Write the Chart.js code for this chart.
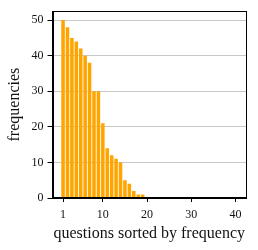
<!DOCTYPE html>
<html>
<head>
<meta charset="utf-8">
<script src="https://cdn.jsdelivr.net/npm/chart.js@4"></script>
<style>
html,body{margin:0;padding:0;background:#fff;}
#wrap{width:258px;height:250px;position:relative;}
</style>
</head>
<body>
<div id="wrap"><canvas id="c" width="258" height="250"></canvas></div>
<script>
const questions = [1,2,3,4,5,6,7,8,9,10,11,12,13,14,15,16,17,18,19];
const frequencies = [50,48,45,44,42,40,38,30,30,21,14,12,11,10,5,4,2,1,1];
const xTickValues = [1,10,20,30,40];
const yTickValues = [0,10,20,30,40,50];
const xTitle = 'questions sorted by frequency';
const yTitle = 'frequencies';

const FONT = "'Liberation Serif', 'Times New Roman', serif";

const framePlugin = {
  id: 'frame',
  afterDraw(chart) {
    const a = chart.chartArea, ctx = chart.ctx;
    ctx.save();
    ctx.strokeStyle = '#000';
    ctx.lineWidth = 1;
    ctx.strokeRect(Math.round(a.left) + 0.5, Math.round(a.top) + 0.5, Math.round(a.right - a.left) - 1, Math.round(a.bottom - a.top) - 1);
    ctx.restore();
  }
};

new Chart(document.getElementById('c'), {
  type: 'bar',
  data: {
    datasets: [{
      data: questions.map((q, i) => ({x: q, y: frequencies[i]})),
      backgroundColor: '#FFA500',
      borderWidth: 0,
      barPercentage: 0.8,
      categoryPercentage: 1.0
    }]
  },
  options: {
    responsive: false,
    animation: false,
    devicePixelRatio: 1,
    layout: {padding: {top: 10, right: 12, left: 0, bottom: 0}},
    plugins: {legend: {display: false}, tooltip: {enabled: false}},
    scales: {
      x: {
        type: 'linear',
        offset: false,
        min: -1.39,
        max: 42.39,
        afterFit(s) { s.height = 52; },
        afterBuildTicks(s) { s.ticks = xTickValues.map(v => ({value: v})); },
        grid: {offset: false, drawOnChartArea: false, tickLength: 4, tickColor: '#000', color: '#000'},
        border: {display: true, color: '#000', width: 1},
        ticks: {color: '#111', font: {family: FONT, size: 12}, padding: 6, maxRotation: 0, autoSkip: false},
        title: {display: true, text: xTitle, color: '#111', font: {family: FONT, size: 16}, padding: {top: 0, bottom: 7}}
      },
      y: {
        min: 0,
        max: 52.5,
        afterFit(s) { s.width = 52.5; },
        afterBuildTicks(s) { s.ticks = yTickValues.map(v => ({value: v})); },
        grid: {color: '#c8c8c8', lineWidth: 1, tickLength: 5, tickColor: '#000'},
        border: {display: true, color: '#000', width: 1},
        ticks: {color: '#111', font: {family: FONT, size: 12}, padding: 4},
        title: {display: true, text: yTitle, color: '#111', font: {family: FONT, size: 16}, padding: {top: 5, bottom: 0}}
      }
    }
  },
  plugins: [framePlugin]
});
</script>
</body>
</html>
